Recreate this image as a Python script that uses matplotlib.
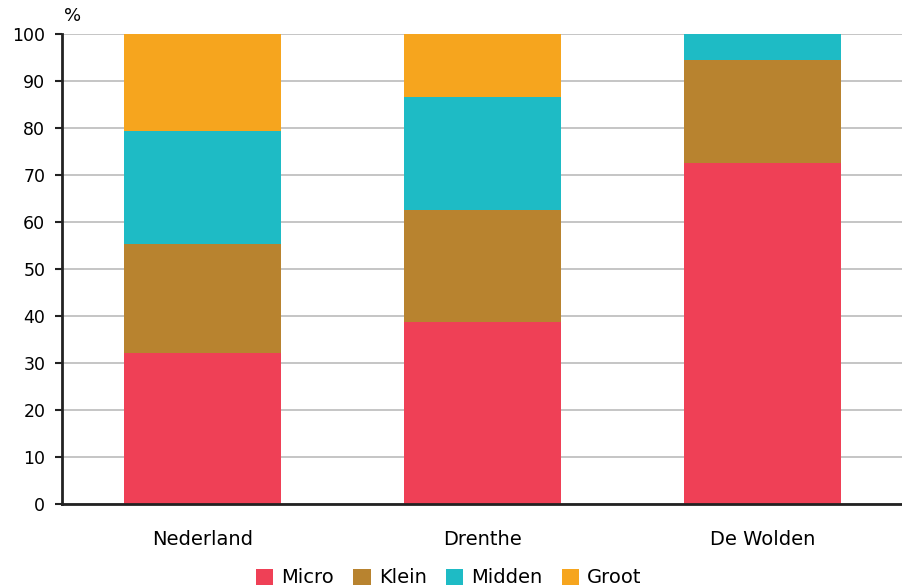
import matplotlib.pyplot as plt
import numpy as np

# regions and share of companies per size class (%)
regions = ['Nederland', 'Drenthe', 'De Wolden']
micro = [32.1, 38.7, 72.6]
klein = [23.2, 23.9, 21.9]
midden = [24.1, 24.0, 5.5]
groot = [20.6, 13.4, 0.0]

series = [('Micro', micro, '#EF4056'),
          ('Klein', klein, '#B8832F'),
          ('Midden', midden, '#1EBBC5'),
          ('Groot', groot, '#F6A51E')]

fig = plt.figure(figsize=(9.03, 5.86), dpi=100)
ax = fig.add_axes([0.0687, 0.140, 0.9313, 0.802])

x = np.arange(len(regions))
bottom = np.zeros(len(regions))
for name, vals, col in series:
    ax.bar(x, vals, width=0.56, bottom=bottom, color=col, label=name, zorder=2)
    bottom += np.array(vals)

ax.set_xlim(-0.5, 2.5)
ax.set_ylim(0, 100)
ax.set_yticks(range(0, 101, 10))
ax.yaxis.grid(True, color='#bbbbbb', linewidth=1.2, zorder=0)
ax.set_axisbelow(True)

ax.set_xticks(x)
ax.set_xticklabels(regions, fontsize=14)
ax.tick_params(axis='x', length=0, pad=19)
ax.tick_params(axis='y', labelsize=12.5, length=5, width=1.5, color='#222222', pad=7)

for s in ['top', 'right']:
    ax.spines[s].set_visible(False)
ax.spines['left'].set_linewidth(2)
ax.spines['left'].set_color('#222222')
ax.spines['bottom'].set_linewidth(2)
ax.spines['bottom'].set_color('#222222')

ax.text(0.012, 1.038, '%', transform=ax.transAxes, fontsize=13, ha='center', va='center')

fig.legend(loc='center', bbox_to_anchor=(0.497, 0.0137), ncol=4, frameon=False,
           fontsize=14, handlelength=0.9, handleheight=0.9, handletextpad=0.4,
           columnspacing=1.0, borderpad=0)

fig.savefig('out.png', dpi=100)
